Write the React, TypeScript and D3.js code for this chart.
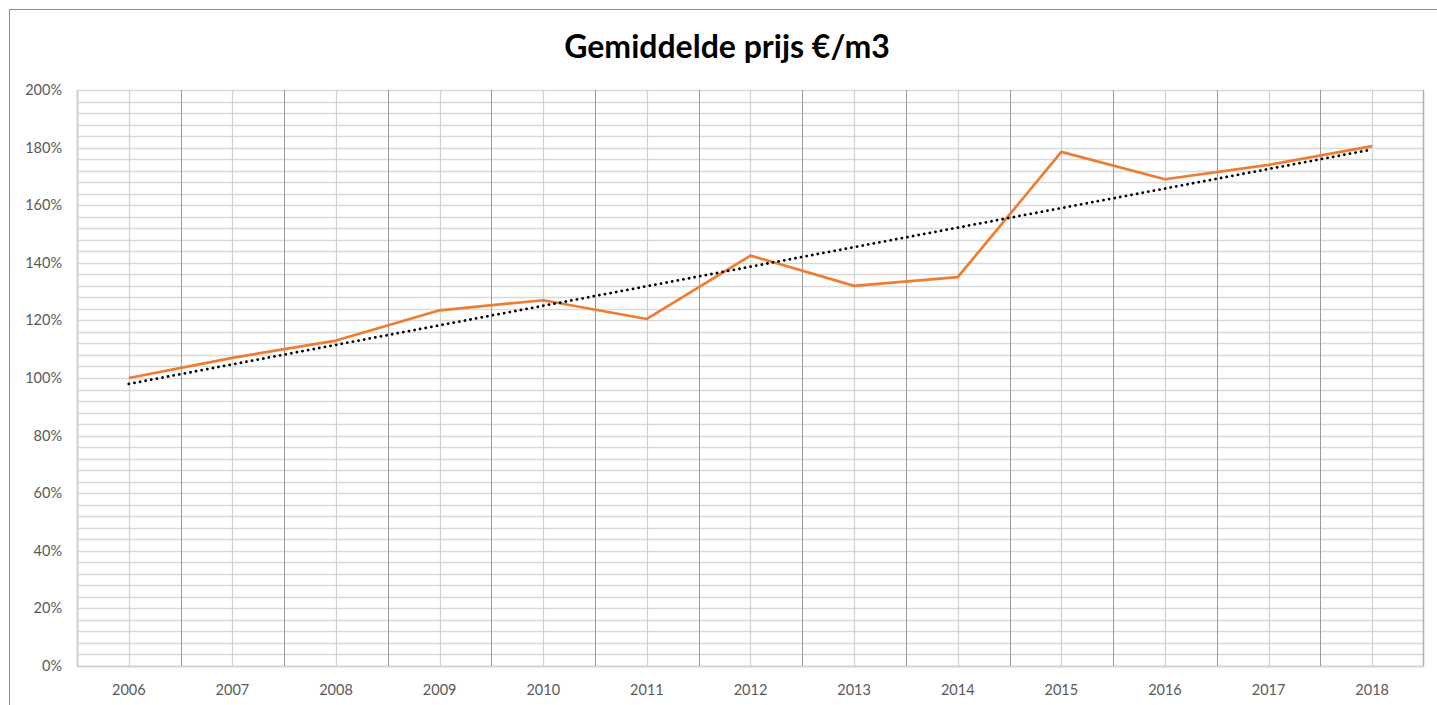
import { useMemo } from 'react';
import * as d3 from 'd3';

// --- Data ---
const years = ['2006', '2007', '2008', '2009', '2010', '2011', '2012', '2013', '2014', '2015', '2016', '2017', '2018'];
const prijsIndex = [100, 107, 113, 123.5, 127, 120.5, 142.5, 132, 135, 178.5, 169, 174, 180.5];
const yTicks = [0, 20, 40, 60, 80, 100, 120, 140, 160, 180, 200];

const W = 1437;
const H = 705;
const margin = { top: 90, right: 13, bottom: 39, left: 77 };

const App = () => {
    const innerW = W - margin.left - margin.right;
    const innerH = H - margin.top - margin.bottom;

    const x = useMemo(() => d3.scaleBand<string>().domain(years).range([0, innerW]), [innerW]);
    const y = useMemo(() => d3.scaleLinear().domain([0, 200]).range([innerH, 0]), [innerH]);
    const cx = (yr: string) => (x(yr) ?? 0) + x.bandwidth() / 2;

    // linear trendline (least squares over the category index)
    const trend = useMemo(() => {
        const n = prijsIndex.length;
        const mx = d3.mean(d3.range(n)) as number;
        const my = d3.mean(prijsIndex) as number;
        const slope = d3.sum(prijsIndex, (v, i) => (i - mx) * (v - my)) / d3.sum(d3.range(n), i => (i - mx) ** 2);
        return years.map((yr, i) => ({ yr, v: my + slope * (i - mx) }));
    }, []);

    const line = d3.line<{ yr: string; v: number }>().x(d => cx(d.yr)).y(d => y(d.v));
    const series = years.map((yr, i) => ({ yr, v: prijsIndex[i] }));

    const minorTicks = d3.range(0, 201, 4);
    const labelFont = 'Lato, "Open Sans", sans-serif';

    return (
        <svg width={W} height={H} style={{ position: 'absolute', left: 0, top: 0, background: '#fff' }}>
            {/* frame of the slide */}
            <line x1={9} y1={9.5} x2={W} y2={9.5} stroke="#8c8c8c" />
            <line x1={9.5} y1={9} x2={9.5} y2={H} stroke="#8c8c8c" />

            <text x={727} y={58} textAnchor="middle" fontFamily={labelFont} fontWeight={700} fontSize={32} fill="#000">
                Gemiddelde prijs €/m3
            </text>

            <g transform={`translate(${margin.left},${margin.top})`}>
                {/* horizontal grid, every 4% */}
                {minorTicks.map(t => (
                    <line key={'h' + t} x1={0} x2={innerW} y1={Math.round(y(t)) + 0.5} y2={Math.round(y(t)) + 0.5}
                          stroke="#d9d9d9" strokeWidth={1.3} />
                ))}
                {/* vertical grid: light at category centres, darker at boundaries */}
                {years.map(yr => (
                    <line key={'c' + yr} x1={Math.round(cx(yr)) + 0.5} x2={Math.round(cx(yr)) + 0.5} y1={0} y2={innerH}
                          stroke="#d0d0d0" strokeWidth={1.2} />
                ))}
                {years.slice(1).map(yr => (
                    <line key={'b' + yr} x1={Math.round(x(yr) ?? 0) + 0.5} x2={Math.round(x(yr) ?? 0) + 0.5} y1={0} y2={innerH}
                          stroke="#9a9a9a" strokeWidth={1} />
                ))}
                <line x1={0.5} x2={0.5} y1={0} y2={innerH} stroke="#d0d0d0" strokeWidth={2} />
                <line x1={innerW - 0.5} x2={innerW - 0.5} y1={0} y2={innerH} stroke="#b0b0b0" strokeWidth={1.5} />
                <line x1={0} x2={innerW} y1={innerH + 0.5} y2={innerH + 0.5} stroke="#d0d0d0" strokeWidth={1.5} />

                {/* y labels */}
                {yTicks.map(t => (
                    <text key={'yl' + t} x={-15} y={y(t)} dy="0.35em" textAnchor="end"
                          fontFamily={labelFont} fontSize={14.5} fill="#595959">
                        {t}%
                    </text>
                ))}
                {/* x labels */}
                {years.map(yr => (
                    <text key={'xl' + yr} x={cx(yr)} y={innerH + 29} textAnchor="middle"
                          fontFamily={labelFont} fontSize={14.5} fill="#595959">
                        {yr}
                    </text>
                ))}

                <path d={line(series) ?? ''} fill="none" stroke="#ed7d31" strokeWidth={2.7} strokeLinejoin="round" />
                <path d={line(trend) ?? ''} fill="none" stroke="#000" strokeWidth={2.8}
                      strokeDasharray="0.1 5.6" strokeLinecap="round" />
            </g>
        </svg>
    );
};

export default App;
